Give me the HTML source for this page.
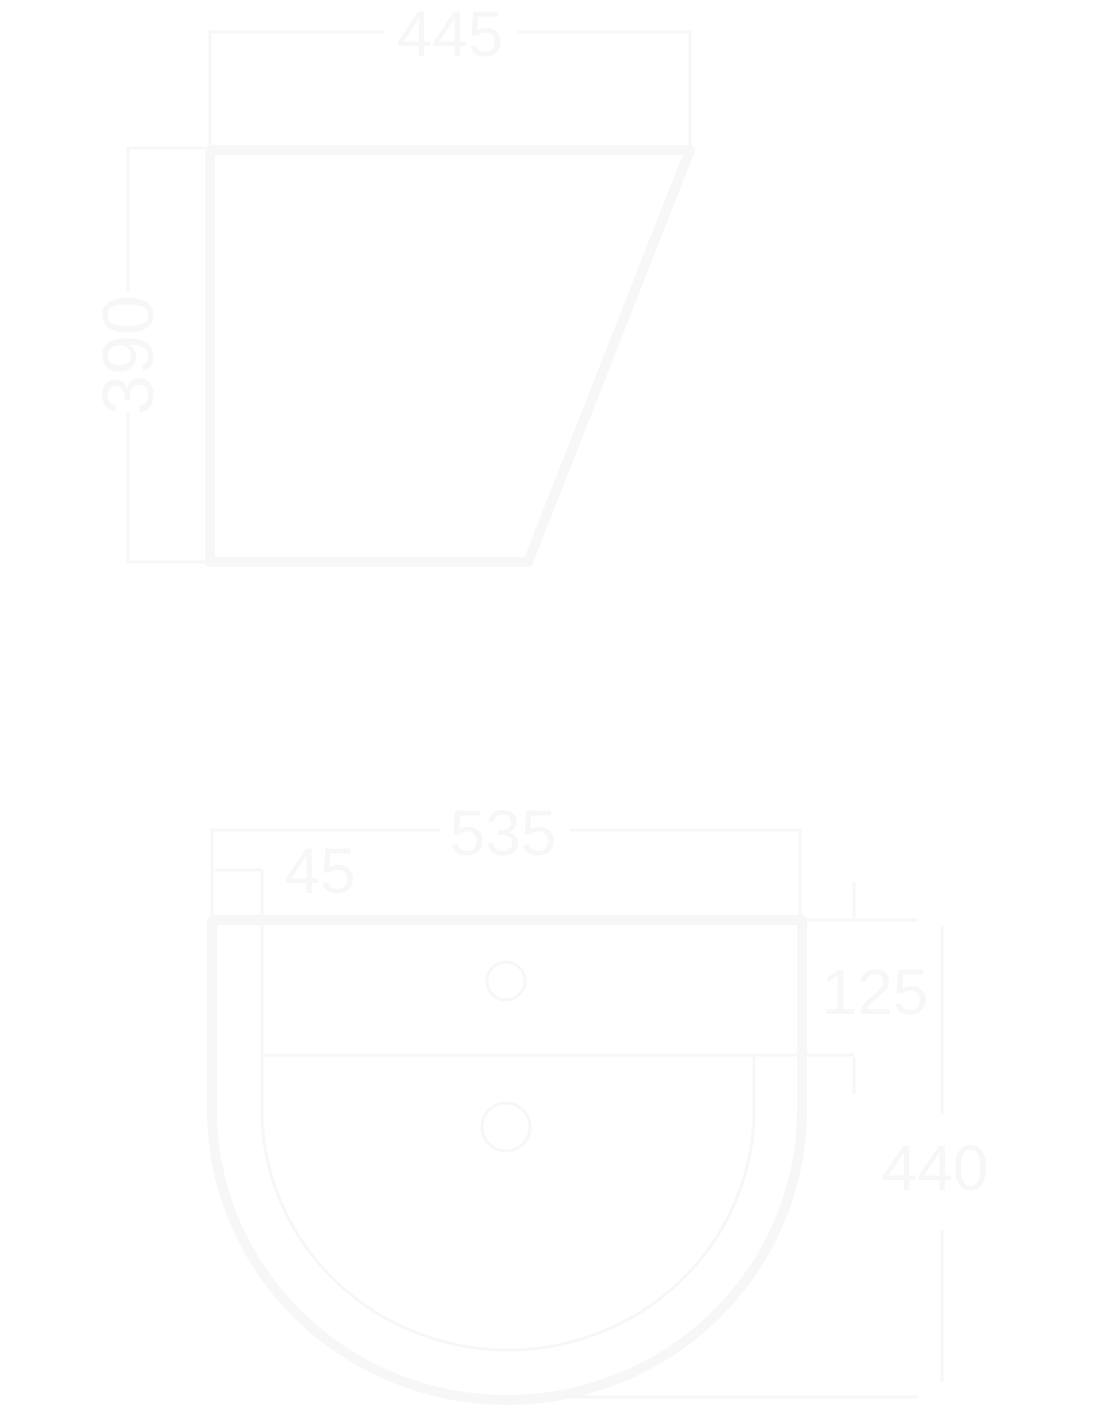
<!DOCTYPE html>
<html><head><style>html,body{margin:0;padding:0;background:#fff}svg{display:block}</style></head>
<body>
<svg width="1100" height="1422" viewBox="0 0 1100 1422" xmlns="http://www.w3.org/2000/svg" font-family="Liberation Sans, sans-serif">
<g fill="none" stroke="#f7f7f7" stroke-linejoin="round">
<!-- top view -->
<polygon points="210,150 690,150 528,562 210,562" stroke-width="10"/>
<g stroke-width="3">
<line x1="210" y1="32" x2="384" y2="32"/><line x1="518" y1="32" x2="690" y2="32"/>
<line x1="210" y1="30" x2="210" y2="145"/><line x1="690" y1="30" x2="690" y2="145"/>
<line x1="128" y1="150" x2="128" y2="292"/><line x1="128" y1="412" x2="128" y2="562"/>
<line x1="126" y1="148" x2="205" y2="148"/><line x1="126" y1="562" x2="205" y2="562"/>
</g>
<!-- bottom view -->
<path d="M212,920 L802,920 L802,1110 A295,290 0 0 1 212,1110 Z" stroke-width="10"/>
<g stroke-width="3">
<path d="M262,870 L262,1110 A246,240 0 0 0 754,1110 L754,1055"/>
<line x1="262" y1="1055" x2="854" y2="1055"/>
<line x1="802" y1="920" x2="918" y2="920"/>
<circle cx="506" cy="981" r="19"/>
<circle cx="506" cy="1127" r="24"/>
<line x1="212" y1="830" x2="440" y2="830"/><line x1="570" y1="830" x2="800" y2="830"/>
<line x1="212" y1="828" x2="212" y2="915"/><line x1="800" y1="828" x2="800" y2="915"/>
<line x1="215" y1="870" x2="262" y2="870"/>
<line x1="854" y1="882" x2="854" y2="918"/><line x1="854" y1="1057" x2="854" y2="1094"/>
<line x1="942" y1="925" x2="942" y2="1115"/><line x1="942" y1="1230" x2="942" y2="1382"/>
<line x1="506" y1="1397" x2="918" y2="1397"/>
</g>
</g>
<g fill="#f7f7f7" font-size="64">
<text x="450" y="56" text-anchor="middle">445</text>
<text x="0" y="0" text-anchor="middle" transform="translate(153,355) rotate(-90)" font-size="72">390</text>
<text x="503" y="855" text-anchor="middle">535</text>
<text x="320" y="893" text-anchor="middle">45</text>
<text x="875" y="1014" text-anchor="middle">125</text>
<text x="935" y="1190" text-anchor="middle">440</text>
</g>
</svg>
</body></html>
